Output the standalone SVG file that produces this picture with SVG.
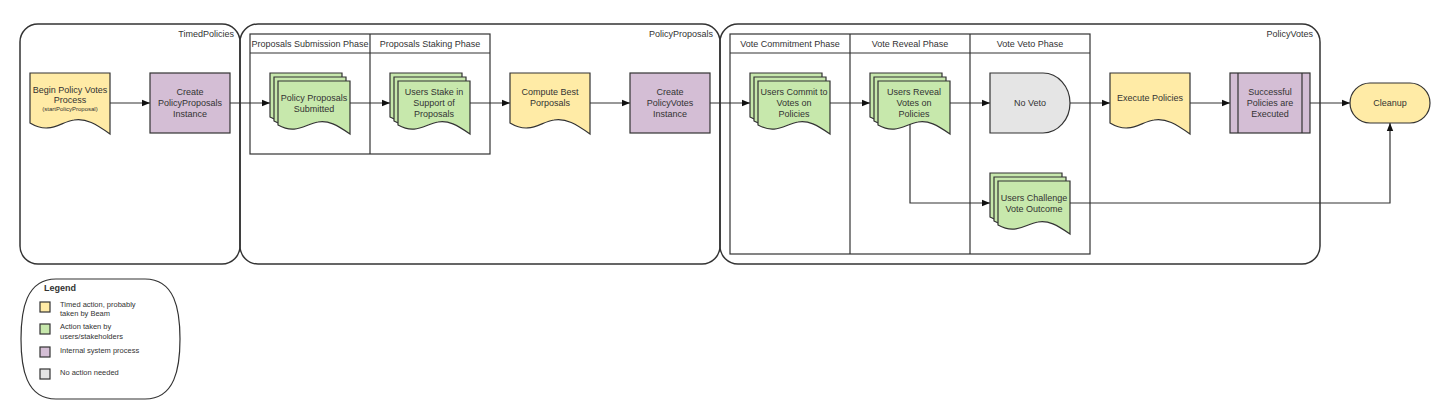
<svg xmlns="http://www.w3.org/2000/svg" xmlns:xlink="http://www.w3.org/1999/xlink" width="1450" height="419" viewBox="0 0 1450 419">
<style>
text{font-family:"Liberation Sans",Arial,sans-serif;fill:#333;font-size:9px}
.c{text-anchor:middle}
.r{text-anchor:end}
.box{fill:none;stroke:#333;stroke-width:1.5}
.lane{fill:none;stroke:#333;stroke-width:1.2}
.y{fill:#FFEBA6;stroke:#333;stroke-width:1.2}
.g{fill:#C7E8AC;stroke:#333;stroke-width:1.2}
.p{fill:#D4BED5;stroke:#333;stroke-width:1.2}
.n{fill:#E5E5E5;stroke:#333;stroke-width:1.2}
.e{fill:none;stroke:#333;stroke-width:1.2;marker-end:url(#ah)}
.lg{font-size:7.5px}
</style>
<defs>
<marker id="ah" viewBox="0 0 10 10" refX="10" refY="5" markerWidth="8" markerHeight="8" markerUnits="userSpaceOnUse" orient="auto"><path d="M0,1 L10,5 L0,9 Z" fill="#111"/></marker>
<path id="doc" d="M0,0 H80 V61 C66,51 56,45 44,47 C30,49 20,62 0,50 Z"/>
<path id="mdoc" d="M0,0 H72 V53 C59,44 50,39 40,41 C27,43 18,54 0,44 Z"/>
</defs>
<rect width="1450" height="419" fill="#fff"/>

<g id="TimedPolicies">
<rect class="box" x="20" y="24" width="220" height="240" rx="18"/>
<text class="r" x="234" y="37">TimedPolicies</text>
</g>
<g id="PolicyProposals">
<rect class="box" x="240" y="24" width="480" height="240" rx="18"/>
<text class="r" x="713" y="37">PolicyProposals</text>
<rect class="lane" x="250" y="34" width="240" height="120"/>
<line class="lane" x1="250" y1="53" x2="490" y2="53"/>
<line class="lane" x1="370" y1="34" x2="370" y2="154"/>
<text class="c" x="310" y="46.5">Proposals Submission Phase</text>
<text class="c" x="430" y="46.5">Proposals Staking Phase</text>
</g>
<g id="PolicyVotes">
<rect class="box" x="720" y="24" width="600" height="240" rx="18"/>
<text class="r" x="1313" y="37">PolicyVotes</text>
<rect class="lane" x="730" y="34" width="360" height="220"/>
<line class="lane" x1="730" y1="53" x2="1090" y2="53"/>
<line class="lane" x1="850" y1="34" x2="850" y2="254"/>
<line class="lane" x1="970" y1="34" x2="970" y2="254"/>
<text class="c" x="790" y="46.5">Vote Commitment Phase</text>
<text class="c" x="910" y="46.5">Vote Reveal Phase</text>
<text class="c" x="1030" y="46.5">Vote Veto Phase</text>
</g>

<g id="connectors">
<path class="e" d="M110,103 H150"/>
<path class="e" d="M230,103 H270"/>
<path class="e" d="M350,103 H390"/>
<path class="e" d="M470,103 H510"/>
<path class="e" d="M590,103 H630"/>
<path class="e" d="M710,103 H750"/>
<path class="e" d="M830,103 H870"/>
<path class="e" d="M950,103 H990"/>
<path class="e" d="M1070,103 H1110"/>
<path class="e" d="M1190,103 H1230"/>
<path class="e" d="M1310,103 H1350"/>
<path class="e" d="M910,120 V203 H990"/>
<path class="e" d="M1060,203 H1390 V123"/>
</g>

<g id="begin">
<use xlink:href="#doc" href="#doc" x="30" y="73" class="y"/>
<text class="c" x="70" y="93">Begin Policy Votes</text>
<text class="c" x="70" y="102.5">Process</text>
<text class="c" x="70" y="111" style="font-size:6px">(startPolicyProposal)</text>
</g>
<g id="createProposals">
<rect class="p" x="150" y="73" width="80" height="60"/>
<text class="c" x="190" y="95">Create</text>
<text class="c" x="190" y="106">PolicyProposals</text>
<text class="c" x="190" y="117">Instance</text>
</g>
<g id="submitted">
<use xlink:href="#mdoc" href="#mdoc" x="270" y="73" class="g"/>
<use xlink:href="#mdoc" href="#mdoc" x="274" y="77" class="g"/>
<use xlink:href="#mdoc" href="#mdoc" x="278" y="81" class="g"/>
<text class="c" x="314" y="101">Policy Proposals</text>
<text class="c" x="314" y="111.5">Submitted</text>
</g>
<g id="stake">
<use xlink:href="#mdoc" href="#mdoc" x="390" y="73" class="g"/>
<use xlink:href="#mdoc" href="#mdoc" x="394" y="77" class="g"/>
<use xlink:href="#mdoc" href="#mdoc" x="398" y="81" class="g"/>
<text class="c" x="434" y="95">Users Stake in</text>
<text class="c" x="434" y="106">Support of</text>
<text class="c" x="434" y="117">Proposals</text>
</g>
<g id="compute">
<use xlink:href="#doc" href="#doc" x="510" y="73" class="y"/>
<text class="c" x="550" y="95">Compute Best</text>
<text class="c" x="550" y="106">Porposals</text>
</g>
<g id="createVotes">
<rect class="p" x="630" y="73" width="80" height="60"/>
<text class="c" x="670" y="95">Create</text>
<text class="c" x="670" y="106">PolicyVotes</text>
<text class="c" x="670" y="117">Instance</text>
</g>
<g id="commit">
<use xlink:href="#mdoc" href="#mdoc" x="750" y="73" class="g"/>
<use xlink:href="#mdoc" href="#mdoc" x="754" y="77" class="g"/>
<use xlink:href="#mdoc" href="#mdoc" x="758" y="81" class="g"/>
<text class="c" x="794" y="95">Users Commit to</text>
<text class="c" x="794" y="106">Votes on</text>
<text class="c" x="794" y="117">Policies</text>
</g>
<g id="reveal">
<use xlink:href="#mdoc" href="#mdoc" x="870" y="73" class="g"/>
<use xlink:href="#mdoc" href="#mdoc" x="874" y="77" class="g"/>
<use xlink:href="#mdoc" href="#mdoc" x="878" y="81" class="g"/>
<text class="c" x="914" y="95">Users Reveal</text>
<text class="c" x="914" y="106">Votes on</text>
<text class="c" x="914" y="117">Policies</text>
</g>
<g id="noVeto">
<path class="n" d="M990,73 H1043 A27,30 0 0 1 1043,133 H990 Z"/>
<text class="c" x="1030" y="106">No Veto</text>
</g>
<g id="challenge">
<use xlink:href="#mdoc" href="#mdoc" x="990" y="173" class="g"/>
<use xlink:href="#mdoc" href="#mdoc" x="994" y="177" class="g"/>
<use xlink:href="#mdoc" href="#mdoc" x="998" y="181" class="g"/>
<text class="c" x="1034" y="201">Users Challenge</text>
<text class="c" x="1034" y="211.5">Vote Outcome</text>
</g>
<g id="execute">
<use xlink:href="#doc" href="#doc" x="1110" y="73" class="y"/>
<text class="c" x="1150" y="101">Execute Policies</text>
</g>
<g id="executed">
<rect class="p" x="1230" y="73" width="80" height="60"/>
<line class="p" x1="1238" y1="73" x2="1238" y2="133"/>
<line class="p" x1="1302" y1="73" x2="1302" y2="133"/>
<text class="c" x="1270" y="95">Successful</text>
<text class="c" x="1270" y="106">Policies are</text>
<text class="c" x="1270" y="117">Executed</text>
</g>
<g id="cleanup">
<rect class="y" x="1350" y="83" width="80" height="40" rx="20"/>
<text class="c" x="1390" y="106">Cleanup</text>
</g>

<g id="legend">
<path fill="#fff" stroke="#333" stroke-width="1.2" d="M56,279 H145 C175,279 180,310 180,339 C180,368 175,399 145,399 H56 C26,399 21,368 21,339 C21,310 26,279 56,279 Z"/>
<text x="44" y="291" style="font-weight:bold">Legend</text>
<rect class="y" x="40" y="302" width="10" height="10"/>
<text class="lg" x="60" y="307">Timed action, probably</text>
<text class="lg" x="60" y="316">taken by Beam</text>
<rect class="g" x="40" y="324" width="10" height="10"/>
<text class="lg" x="60" y="329">Action taken by</text>
<text class="lg" x="60" y="339">users/stakeholders</text>
<rect class="p" x="40" y="347" width="10" height="10"/>
<text class="lg" x="60" y="353">Internal system process</text>
<rect class="n" x="40" y="369" width="10" height="10"/>
<text class="lg" x="60" y="375">No action needed</text>
</g>
</svg>
